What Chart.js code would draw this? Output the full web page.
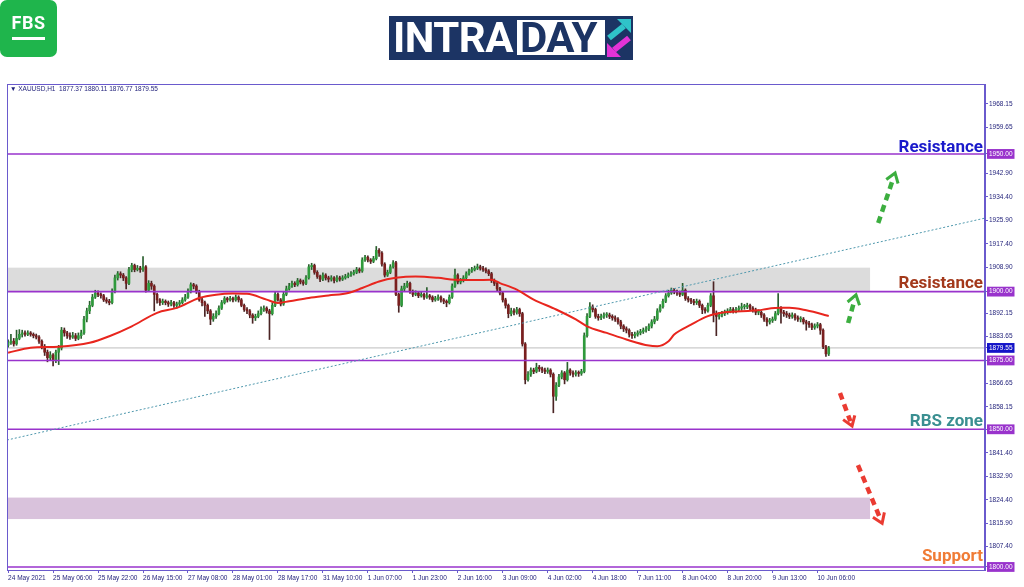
<!DOCTYPE html>
<html><head><meta charset="utf-8">
<script src="https://cdn.jsdelivr.net/npm/chart.js@4.4.0/dist/chart.umd.min.js"></script>
<style>
html,body{margin:0;padding:0;background:#fff;width:1024px;height:587px;overflow:hidden;}
#wrap{position:relative;width:1024px;height:587px;}
#c{position:absolute;left:0;top:0;}
#fbs{position:absolute;left:0;top:0;width:57px;height:57px;background:#1fb54c;border-radius:7px;}
#fbs span{position:absolute;left:0;width:57px;top:12px;text-align:center;color:#fff;font:bold 18px Roboto,sans-serif;letter-spacing:0.5px;}
#fbs i{position:absolute;left:12px;top:37px;width:33px;height:3px;background:#fff;}
#intra{position:absolute;left:389px;top:16px;width:244px;height:44px;background:#1c3464;}
#intra .a{position:absolute;left:4px;top:-3px;color:#fff;font:bold 42px Roboto,sans-serif;line-height:50px;letter-spacing:-0.5px;}
#intra .b{position:absolute;left:128px;top:4px;width:88px;height:35px;background:#fff;}
#intra .b span{position:absolute;left:3px;top:-7px;color:#1c3464;font:bold 42px Roboto,sans-serif;line-height:50px;letter-spacing:-0.5px;}
#intra svg{position:absolute;left:216px;top:1px;}
#hdr{position:absolute;left:10px;top:85px;font:6.5px "Liberation Sans",sans-serif;color:#1e1e78;white-space:pre;}
</style></head>
<body><div id="wrap">
<canvas id="c" width="1024" height="587"></canvas>
<div id="fbs"><span>FBS</span><i></i></div>
<div id="intra"><div class="a">INTRA</div><div class="b"><span>DAY</span></div>
<svg width="28" height="42" viewBox="0 0 28 42">
<line x1="4" y1="21" x2="19" y2="9" stroke="#2fc3c9" stroke-width="6"/>
<polygon points="12,2 26,2 26,16" fill="#2fc3c9"/>
<line x1="24" y1="21" x2="9" y2="33" stroke="#e233d6" stroke-width="6"/>
<polygon points="2,26 2,40 16,40" fill="#e233d6"/>
</svg></div>
<div id="hdr">▼ XAUUSD,H1  1877.37 1880.11 1876.77 1879.55</div>
</div>
<script>
// ---- data (XAUUSD H1) ----
const opens = [
1880.5,1881.5,1882,1881,1883,1884.5,1885,1884.5,1885,1884.5,
1884,1883.5,1882,1880,1878,1876,1877,1875,1878,1879.5,
1886,1885,1884,1883.5,1884,1883,1884,1885,1890,1893,
1895,1898,1899.5,1899,1898.5,1897,1896.5,1896,1900,1905,
1906.5,1906,1905,1903,1908,1909.5,1908,1908.5,1908,1909,
1900.5,1903,1902,1899,1897,1896,1896.5,1896,1895.5,1896,
1895,1895.5,1896,1897,1898,1900,1902.5,1902,1900,1897,
1896,1895,1893,1890,1891,1892,1894,1896,1897.5,1897,
1897.5,1897,1898,1897,1895,1893.5,1893,1891.5,1890.5,1891,
1892,1893.5,1894,1893,1892,1895,1899,1897,1895.5,1899,
1901,1902,1903,1902.5,1904,1903.5,1903,1905,1909,1909.5,
1907,1905.5,1904.5,1906,1905,1904.5,1905,1904,1905,1904.5,
1905,1905.5,1906,1906.5,1907,1908,1907.5,1911.5,1912.5,1911.5,
1911,1912,1915,1914,1910,1906,1907,1909,1910.5,1899,
1895,1901,1902,1903,1900,1899,1899.5,1898.5,1899,1898,
1898.5,1898,1897,1897.5,1898,1897,1896.5,1896,1898,1902,
1906,1903.5,1904,1905,1906.5,1907.5,1908,1908.5,1909,1908.5,
1908,1907.5,1906.5,1904,1903,1901,1899.5,1897,1895,1892,
1893,1892.5,1893.5,1892,1881,1868,1870,1871.5,1871,1872.5,
1872,1871.5,1871,1871.5,1870,1862,1866,1869,1870.5,1868,
1871.5,1870.5,1870,1870.5,1870.3,1871,1884,1891,1894.5,1893.5,
1891,1890.5,1891,1891.5,1891.5,1891,1890.5,1890,1889,1887.5,
1886.5,1886,1884.5,1884,1884.5,1885,1885.5,1886,1886.5,1887.5,
1889,1890,1893,1894.5,1896.5,1898.5,1899.5,1900.5,1900,1899.5,
1899,1900.5,1897.5,1897,1896.5,1896,1896.5,1895,1893.5,1893,
1895,1898.5,1892,1891,1891.5,1892,1892.5,1893,1893.5,1893,
1893.5,1894,1894.5,1894.5,1895,1894,1893.3,1892.5,1892.5,1891.5,
1890,1889,1889.5,1890,1892,1894,1892.5,1892,1891.5,1891,
1891.5,1890.5,1890,1890,1889,1888.5,1888,1887,1887.5,1888,
1886,1880,1877.37];
const highs = [
1882.5,1884.5,1883,1886,1886.2,1886,1885.8,1885.8,1885.5,1885,
1884.6,1884,1882.5,1880.8,1878.8,1878.2,1877.5,1878.8,1880.5,1887,
1886.8,1885.6,1885,1885.2,1884.8,1885,1886,1891,1894,1896.5,
1899,1900.5,1900.3,1899.6,1899,1897.8,1897.2,1901,1906,1907.3,
1907.2,1906.6,1905.5,1908.8,1910.3,1910,1909.5,1909.2,1912.7,1909.5,
1904,1903.8,1902.5,1899.5,1897.5,1897.3,1897,1896.6,1896.8,1896.5,
1896.2,1896.8,1897.8,1899,1901,1903.2,1903,1902.5,1900.5,1897.8,
1896.6,1895.5,1893.5,1892,1893,1894.8,1896.8,1898.2,1898,1898.3,
1898,1898.8,1898.5,1897.5,1895.5,1894.2,1893.5,1892,1891.8,1893,
1894.5,1894.8,1894.5,1893.6,1896,1899.8,1899.6,1897.5,1899.8,1902,
1903,1903.8,1903.6,1904.8,1904.6,1904.2,1905.8,1909.8,1910.3,1910,
1907.6,1906,1906.8,1906.5,1905.6,1905.8,1905.5,1905.8,1905.6,1905.8,
1906.3,1906.8,1907.3,1907.8,1908.8,1908.6,1912.3,1913.2,1913,1912,
1912.8,1916.4,1915.6,1914.5,1910.5,1907.8,1909.8,1911.3,1911,1899.5,
1902,1903,1903.8,1903.5,1900.6,1900.3,1900,1899.8,1899.5,1901.5,
1899,1898.5,1898.3,1898.8,1898.5,1897.5,1897,1898.8,1902.8,1908.2,
1906.5,1904.8,1905.8,1907.2,1908.2,1908.8,1909.3,1910,1909.6,1909.2,
1908.6,1908,1907,1904.6,1903.5,1901.6,1900,1897.6,1895.5,1894,
1893.8,1894.3,1894,1892.5,1881.5,1871,1872.3,1872.2,1874,1873.2,
1872.6,1872.2,1872.3,1872,1870.5,1867,1870,1871.3,1871,1874.3,
1872,1871.2,1871.3,1871.2,1871.8,1885,1892,1896,1895.2,1894,
1891.8,1891.8,1892.3,1892.4,1892.2,1891.6,1891.2,1890.6,1889.6,1888,
1887.2,1886.5,1885.2,1885.3,1885.8,1886.3,1886.8,1887.3,1888.3,1889.8,
1891,1893.8,1895.3,1897.3,1899.3,1900.5,1901.3,1901.2,1900.6,1900.2,
1903,1901,1898.2,1897.6,1897.2,1897.3,1897,1895.5,1894.2,1895.8,
1899.3,1903.6,1893,1892.5,1892.8,1893.3,1893.8,1894.3,1894.2,1894.3,
1894.8,1895.8,1895.4,1895.8,1895.5,1894.6,1894,1893.4,1893,1892,
1890.6,1890.3,1890.8,1892.8,1899.3,1894.6,1893.2,1892.8,1892.2,1892.3,
1892,1891.2,1890.9,1890.6,1889.6,1889.2,1888.6,1888.3,1888.8,1888.5,
1886.5,1880.5,1880.11];
const lows = [
1879.8,1880.8,1880.2,1880.5,1882.5,1883.5,1883.8,1884,1883.8,1883.2,
1882.8,1881.2,1879.2,1876.8,1874.5,1875.2,1873,1874.2,1873.5,1878.8,
1883.8,1883,1882.6,1883,1882.2,1882.5,1883,1884.5,1889,1892,
1894.5,1897.5,1898.2,1897.6,1896.4,1895.8,1895.2,1895.5,1899.5,1904.2,
1905,1904,1901,1902.5,1907.2,1907.2,1907.5,1907,1907.3,1899.8,
1900,1900.8,1893,1895.8,1895,1895.3,1895.2,1894.6,1894.8,1894.3,
1894,1894.8,1895.5,1896.5,1897.5,1899.5,1901,1899.3,1896.5,1894.8,
1891,1892,1888,1889.2,1890.3,1891.5,1893.5,1895.5,1896.2,1896.5,
1896.3,1896.5,1896.2,1894.5,1892.8,1892,1890.5,1888.5,1889.5,1890.5,
1891.5,1892.8,1892.2,1882.6,1891.5,1894.5,1896.5,1894.8,1895,1898.5,
1900.5,1901.5,1901.8,1902,1902.8,1902.3,1902.5,1904.5,1908,1906.3,
1904.8,1903.6,1904,1904.2,1903.5,1903.8,1903.2,1903.5,1903.8,1904,
1904.5,1905,1905.5,1906,1906.5,1906.8,1907,1911,1910.8,1910.2,
1910.5,1911.5,1912.8,1909.2,1905.3,1905.5,1906.5,1908.5,1898.5,1892.5,
1894.5,1900.3,1901.5,1899.3,1898.2,1898.5,1897.8,1898,1897.2,1897.5,
1897.2,1896.3,1896.5,1896.8,1896.2,1895.6,1894.5,1895.5,1897.5,1901.5,
1902.8,1902.8,1903.5,1904.5,1906,1907,1907.5,1908,1907.8,1907.3,
1906.8,1905.8,1903.3,1902.2,1900.3,1898.8,1896.2,1894,1890.5,1891.2,
1891.5,1891.8,1891,1880.2,1866.5,1867.5,1869.2,1870.2,1870.5,1871,
1870.6,1870.2,1870.3,1869,1856,1860.5,1865.5,1868.3,1866.5,1867.5,
1869.6,1869,1869.3,1869.2,1869.6,1870.5,1883.5,1890.5,1892.6,1890.3,
1889.6,1889.8,1890.3,1890.6,1890.2,1889.6,1889.2,1888.2,1886.5,1885.5,
1885,1883.5,1883,1883.2,1883.8,1884.3,1884.8,1885.3,1885.8,1886.8,
1888.3,1889.5,1892.5,1894,1896,1898,1899,1899.2,1898.6,1898.2,
1898.5,1896.8,1896.2,1895.6,1895.2,1895.3,1894.2,1892,1892.2,1892.5,
1894.5,1889,1884,1890,1890.8,1891.3,1891.8,1892.3,1892.2,1892.3,
1892.8,1893.2,1893.6,1893.8,1893.2,1892.5,1891.6,1891.6,1890.6,1889.2,
1887.5,1888.2,1888.8,1889.5,1891.5,1888.5,1891,1890.6,1890.2,1890.3,
1889.6,1889.2,1889,1888.2,1886,1887,1886.2,1886.3,1886.8,1884.5,
1879.3,1876.5,1876.77];
const closes = [
1881.5,1882,1881,1883,1884.5,1885,1884.5,1885,1884.5,1884,
1883.5,1882,1880,1878,1876,1877,1875,1878,1879.5,1886,
1885,1884,1883.5,1884,1883,1884,1885,1890,1893,1895,
1898,1899.5,1899,1898.5,1897,1896.5,1896,1900,1905,1906.5,
1906,1905,1903,1908,1909.5,1908,1908.5,1908,1909,1900.5,
1903,1902,1899,1897,1896,1896.5,1896,1895.5,1896,1895,
1895.5,1896,1897,1898,1900,1902.5,1902,1900,1897,1896,
1895,1893,1890,1891,1892,1894,1896,1897.5,1897,1897.5,
1897,1898,1897,1895,1893.5,1893,1891.5,1890.5,1891,1892,
1893.5,1894,1893,1892,1895,1899,1897,1895.5,1899,1901,
1902,1903,1902.5,1904,1903.5,1903,1905,1909,1909.5,1907,
1905.5,1904.5,1906,1905,1904.5,1905,1904,1905,1904.5,1905,
1905.5,1906,1906.5,1907,1908,1907.5,1911.5,1912.5,1911.5,1911,
1912,1915,1914,1910,1906,1907,1909,1910.5,1899,1895,
1901,1902,1903,1900,1899,1899.5,1898.5,1899,1898,1898.5,
1898,1897,1897.5,1898,1897,1896.5,1896,1898,1902,1906,
1903.5,1904,1905,1906.5,1907.5,1908,1908.5,1909,1908.5,1908,
1907.5,1906.5,1904,1903,1901,1899.5,1897,1895,1892,1893,
1892.5,1893.5,1892,1881,1868,1870,1871.5,1871,1872.5,1872,
1871.5,1871,1871.5,1870,1862,1866,1869,1870.5,1868,1871.5,
1870.5,1870,1870.5,1870.3,1871,1884,1891,1894.5,1893.5,1891,
1890.5,1891,1891.5,1891.5,1891,1890.5,1890,1889,1887.5,1886.5,
1886,1884.5,1884,1884.5,1885,1885.5,1886,1886.5,1887.5,1889,
1890,1893,1894.5,1896.5,1898.5,1899.5,1900.5,1900,1899.5,1899,
1900.5,1897.5,1897,1896.5,1896,1896.5,1895,1893.5,1893,1895,
1898.5,1892,1891,1891.5,1892,1892.5,1893,1893.5,1893,1893.5,
1894,1894.5,1894.5,1895,1894,1893.3,1892.5,1892.5,1891.5,1890,
1889,1889.5,1890,1892,1894,1892.5,1892,1891.5,1891,1891.5,
1890.5,1890,1890,1889,1888.5,1888,1887,1887.5,1888,1886,
1880,1877.4,1879.55];

// moving average (red line), read at bar positions
const maIdx = [0,8,18,29,36,44,53,60,68,74,80,85,92,96,100,107,114,121,126,132,138,145,153,159,166,172,175,181,187,195,202,206,213,220,228,231,235,237,243,249,255,261,267,270,275,278,284,290,292];
const maVal = [1877.8,1879.6,1880,1881.4,1883.8,1887.4,1892.3,1894.1,1897.7,1898.9,1899.3,1899.2,1897.1,1895.9,1896.5,1897.7,1898.6,1899.5,1901.3,1903.7,1905,1905.5,1905,1904.3,1904.2,1904.3,1903.1,1900.7,1897.1,1893.5,1889.9,1887.4,1885,1882.6,1880.4,1880.2,1882,1884.4,1888,1891.1,1892.5,1892.9,1893.2,1893.7,1894.1,1894.1,1893.2,1891.7,1891.1];

// x axis tick labels (bar index -> label)
const xTickIdx = [0,16,32,48,64,80,96,112,128,144,160,176,192,208,224,240,256,272,288];
const xTickLabels = ["24 May 2021","25 May 06:00","25 May 22:00","26 May 15:00","27 May 08:00","28 May 01:00","28 May 17:00","31 May 10:00","1 Jun 07:00","1 Jun 23:00","2 Jun 16:00","3 Jun 09:00","4 Jun 02:00","4 Jun 18:00","7 Jun 11:00","8 Jun 04:00","8 Jun 20:00","9 Jun 13:00","10 Jun 06:00"];
// y axis tick labels
const yTickVals = [1968.15,1959.65,1950.00,1942.90,1934.40,1925.90,1917.40,1908.90,1900.00,1892.15,1883.65,1879.55,1875.00,1866.65,1858.15,1850.00,1841.40,1832.90,1824.40,1815.90,1807.40,1800.00];

// horizontal levels and annotations
const levelVals = [1950, 1900, 1875, 1850, 1800];
const lastPrice = 1879.55;
const trendIdx = [-0.4, 347.6];
const trendVal = [1846.1, 1926.7];
const zoneFrom = [-0.4, -0.4];
const zoneTo = [306.7, 306.7];
const zoneLow = [1900, 1817.4];
const zoneHigh = [1908.7, 1825.2];
const labelText = ["Resistance", "Resistance", "RBS zone", "Support"];
const labelLevel = [1950, 1900, 1850, 1800];
const arrowFromIdx = [309.6, 298.9, 296.0, 302.4];
const arrowFromVal = [1924.9, 1888.6, 1863.2, 1837.0];
const arrowToIdx = [315.6, 301.7, 300.3, 311.0];
const arrowToVal = [1943.1, 1898.8, 1851.2, 1815.9];
const arrowDir = ["up", "up", "down", "down"];

// ---- styles ----
const X_MIN = -0.4, X_MAX = 347.6;
const UP = '#2f9a3c', DOWN = '#7a1f1f';
const PURPLE = '#9933cc';
const labelColors = ['#1a1acb', '#a3391b', '#3a8f91', '#f07c36'];
const labelDy = [-2, -4, -3, -6];
const zoneColors = ['#dcdcdc', '#d9c2dc'];

const bodies = closes.map((c, i) => ({x: i, y: [opens[i], c]}));
const wicks = closes.map((c, i) => ({x: i, y: [lows[i], highs[i]]}));
const isUp = i => closes[i] >= opens[i];

const datasets = [];
datasets.push({type:'line', data: maIdx.map((x,k)=>({x, y: maVal[k]})), borderColor:'#e8261e', borderWidth:2, pointRadius:0, cubicInterpolationMode:'monotone', order:0});
datasets.push({type:'line', data: trendIdx.map((x,k)=>({x, y: trendVal[k]})), borderColor:'#4f98ad', borderWidth:1, borderDash:[2,2], pointRadius:0, order:1});
levelVals.forEach(v => datasets.push({type:'line', data:[{x:X_MIN,y:v},{x:X_MAX,y:v}], borderColor:PURPLE, borderWidth:1.6, pointRadius:0, order:1}));
datasets.push({type:'line', data:[{x:X_MIN,y:lastPrice},{x:X_MAX,y:lastPrice}], borderColor:'#bdbdbd', borderWidth:1, pointRadius:0, order:6});
datasets.push({type:'bar', data: bodies, barThickness:2, minBarLength:1, grouped:false, borderWidth:0,
  backgroundColor: ctx => isUp(ctx.dataIndex) ? UP : DOWN, order:3});
datasets.push({type:'bar', data: wicks, barThickness:1, grouped:false, borderWidth:0,
  backgroundColor: ctx => isUp(ctx.dataIndex) ? '#2a5f2e' : '#4a2424', order:4});

const overlay = {
  id: 'overlay',
  beforeDatasetsDraw(chart) {
    const {ctx, chartArea: a, scales: {x, y}} = chart;
    ctx.save();
    ctx.beginPath(); ctx.rect(a.left, a.top, a.width, a.height); ctx.clip();
    zoneFrom.forEach((f, k) => {
      const x0 = x.getPixelForValue(f), x1 = x.getPixelForValue(zoneTo[k]);
      const y0 = y.getPixelForValue(zoneHigh[k]), y1 = y.getPixelForValue(zoneLow[k]);
      ctx.fillStyle = zoneColors[k];
      ctx.fillRect(x0, y0, x1 - x0, y1 - y0);
    });
    ctx.restore();
  },
  afterDatasetsDraw(chart) {
    const {ctx, chartArea: a, scales: {x, y}} = chart;
    ctx.save();
    // arrows
    arrowFromIdx.forEach((f, k) => {
      const x0 = x.getPixelForValue(f), y0 = y.getPixelForValue(arrowFromVal[k]);
      const x1 = x.getPixelForValue(arrowToIdx[k]), y1 = y.getPixelForValue(arrowToVal[k]);
      const col = arrowDir[k] === 'up' ? '#3cae3f' : '#ea3b32';
      const ang = Math.atan2(y1 - y0, x1 - x0);
      ctx.strokeStyle = col;
      ctx.lineWidth = 4.5; ctx.lineCap = 'butt';
      ctx.setLineDash([7, 5]);
      ctx.beginPath(); ctx.moveTo(x0, y0);
      ctx.lineTo(x1 - 5 * Math.cos(ang), y1 - 5 * Math.sin(ang)); ctx.stroke();
      ctx.setLineDash([]);
      ctx.lineWidth = 3; ctx.lineJoin = 'miter';
      ctx.beginPath();
      ctx.moveTo(x1 - 11 * Math.cos(ang - 0.6), y1 - 11 * Math.sin(ang - 0.6));
      ctx.lineTo(x1, y1);
      ctx.lineTo(x1 - 11 * Math.cos(ang + 0.6), y1 - 11 * Math.sin(ang + 0.6));
      ctx.stroke();
    });
    // level labels
    ctx.font = 'bold 17px Roboto, sans-serif';
    ctx.textAlign = 'right'; ctx.textBaseline = 'alphabetic';
    labelText.forEach((t, k) => {
      ctx.fillStyle = labelColors[k];
      ctx.fillText(t, a.right - 2, y.getPixelForValue(labelLevel[k]) + labelDy[k]);
    });
    // plot frame
    ctx.strokeStyle = '#6a5acd'; ctx.lineWidth = 1;
    ctx.strokeRect(a.left + 0.5, a.top + 0.5, a.width - 1, a.height);
    ctx.restore();
  }
};

const hl = v => levelVals.includes(v) ? PURPLE : (v === lastPrice ? '#1414c8' : null);

new Chart(document.getElementById('c'), {
  type: 'bar',
  data: {datasets},
  options: {
    responsive: false, animation: false, events: [], devicePixelRatio: 1,
    layout: {padding: {left: 7, top: 84, right: 0, bottom: 0}},
    plugins: {legend: {display: false}, tooltip: {enabled: false}},
    scales: {
      x: {
        type: 'linear', min: X_MIN, max: X_MAX, offset: false, bounds: 'data',
        afterBuildTicks: s => { s.ticks = xTickIdx.map(v => ({value: v})); },
        afterFit: s => { s.height = 17; },
        grid: {display: true, drawOnChartArea: false, offset: false, tickLength: 3, color: '#6a5acd'},
        border: {color: '#6a5acd'},
        ticks: {autoSkip: false, maxRotation: 0, align: 'start', padding: 1, color: '#1e1e78',
          font: {family: 'Liberation Sans', size: 6.5},
          callback: (v, k) => xTickLabels[k]}
      },
      y: {
        type: 'linear', position: 'right', min: 1798.9, max: 1975.4, bounds: 'data',
        afterBuildTicks: s => { s.ticks = yTickVals.map(v => ({value: v})); },
        afterFit: s => { s.width = 39; },
        grid: {display: true, drawOnChartArea: false, tickLength: 3, color: '#6a5acd'},
        border: {color: '#6a5acd'},
        ticks: {autoSkip: false, padding: 1,
          font: {family: 'Liberation Sans', size: 6.5},
          color: c => hl(c.tick.value) ? '#ffffff' : '#1e1e78',
          showLabelBackdrop: true,
          backdropColor: c => hl(c.tick.value) || 'rgba(0,0,0,0)',
          backdropPadding: {x: 2, y: 1},
          callback: v => Number(v).toFixed(2)}
      }
    }
  },
  plugins: [overlay]
});
</script>
</body></html>
